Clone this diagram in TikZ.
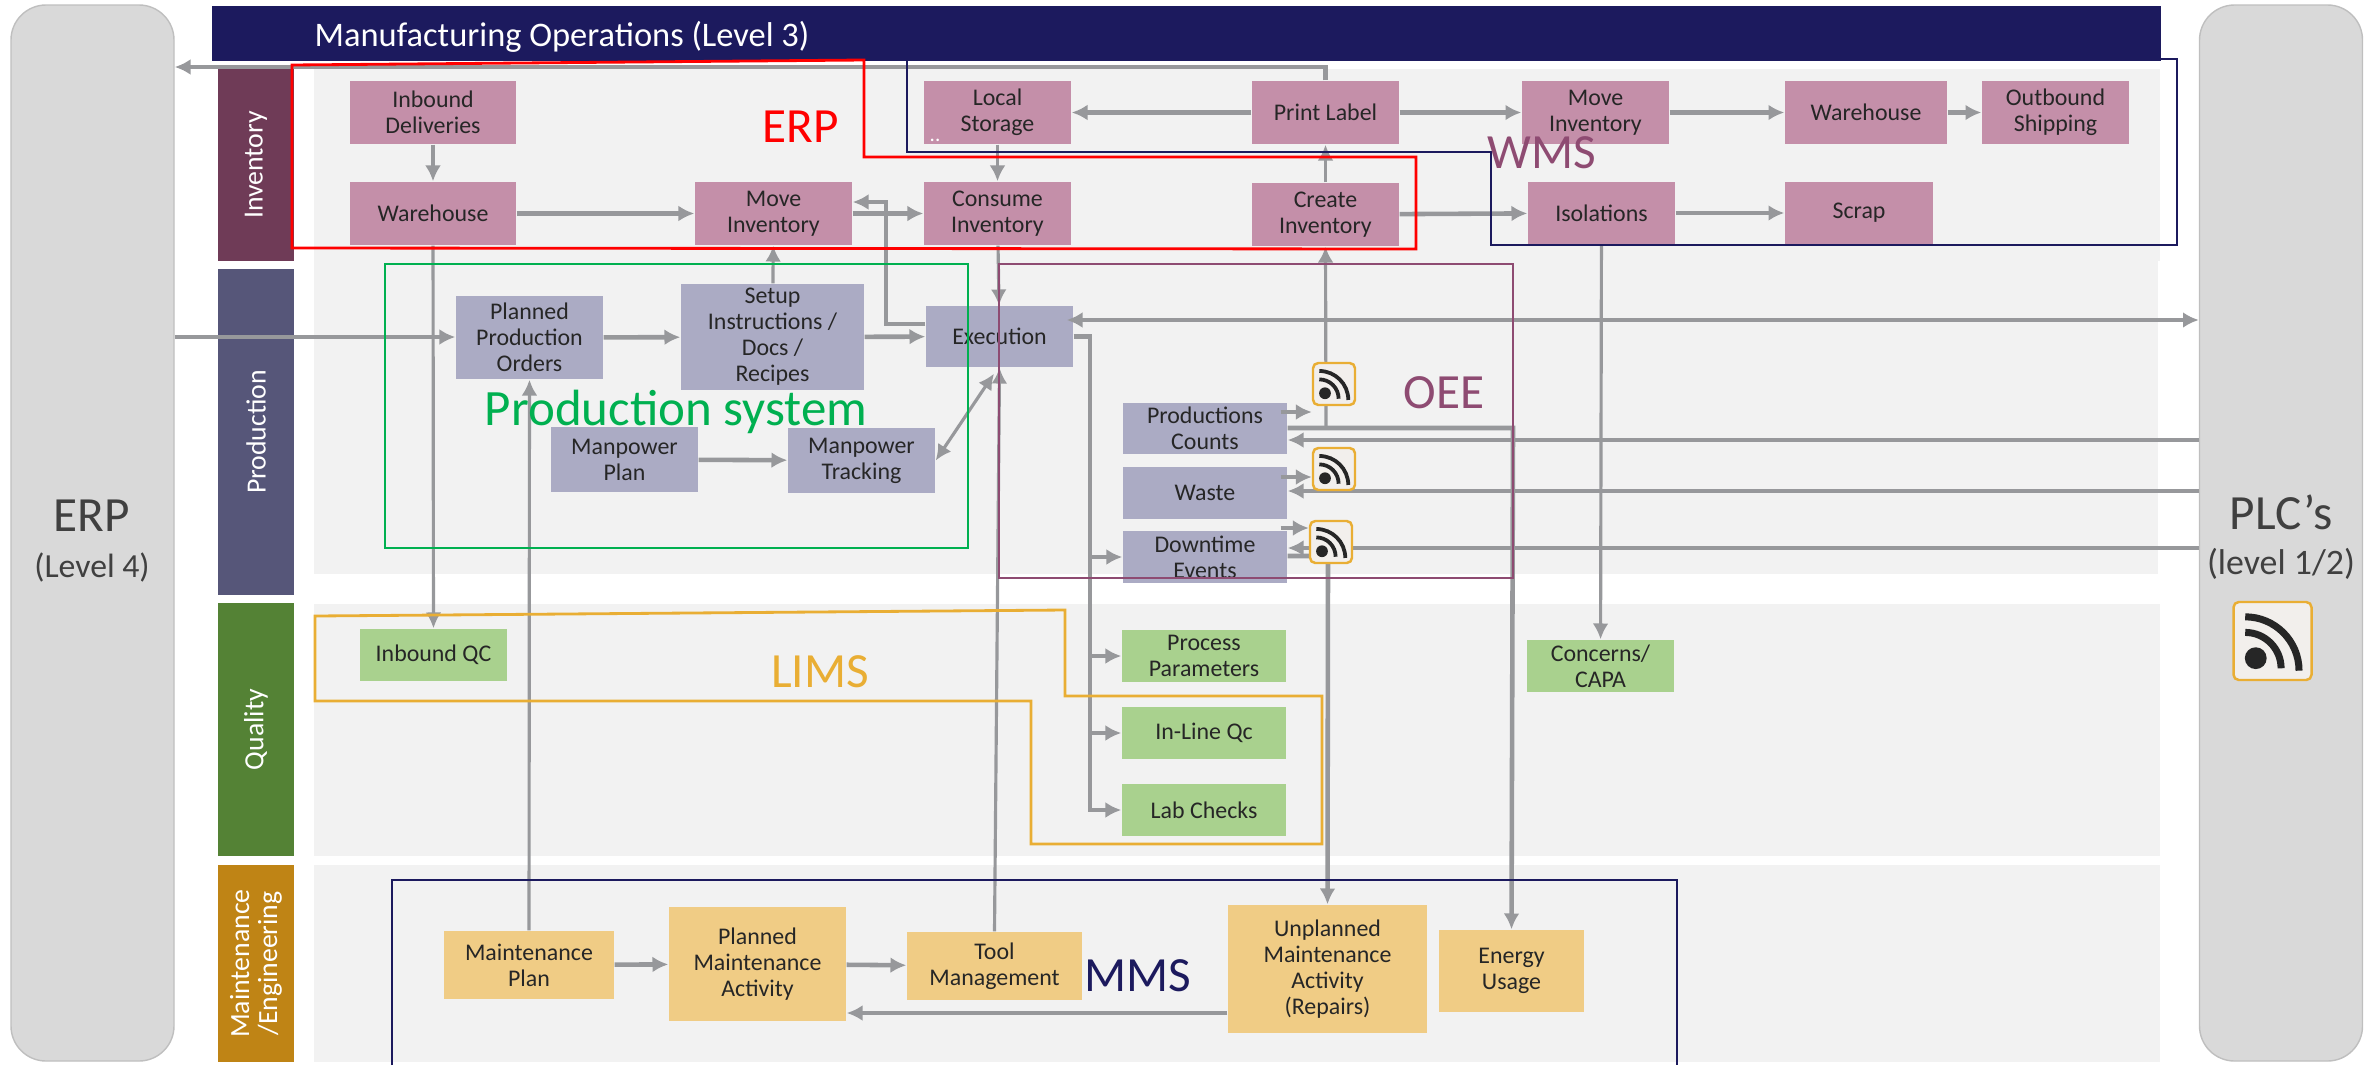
\documentclass[tikz,border=0pt]{standalone}
\usepackage{fontspec}
\usepackage{xcolor}
\usepackage{tikz}
\setmainfont{Carlito}
\usetikzlibrary{arrows.meta, positioning, calc}
\definecolor{invfill}{HTML}{C48FA9}
\definecolor{prodfill}{HTML}{ABABC4}
\definecolor{qualfill}{HTML}{A9D18E}
\definecolor{maintfill}{HTML}{F0CC85}
\definecolor{invband}{HTML}{6F3B57}
\definecolor{prodband}{HTML}{565679}
\definecolor{qualband}{HTML}{548235}
\definecolor{maintband}{HTML}{BF8415}
\definecolor{navyline}{HTML}{1C1A5E}
\definecolor{flowgray}{HTML}{97989B}
\definecolor{limsorange}{HTML}{E9AE34}
\definecolor{oeepurple}{HTML}{8E4B72}
\definecolor{sysgreen}{HTML}{00B050}
\definecolor{textdark}{HTML}{262626}
\definecolor{iconfill}{HTML}{F2EFEC}

\begin{document}
\begin{tikzpicture}[
    boxbase/.style={rectangle, inner sep=0pt, align=center, text=textdark, font=\fontsize{6.8}{7.4}\selectfont, minimum width=1.47cm},
    invbox/.style={boxbase, fill=invfill, minimum height=0.63cm},
    prodbox/.style={boxbase, fill=prodfill},
    qualbox/.style={boxbase, fill=qualfill, minimum height=0.52cm},
    maintbox/.style={boxbase, fill=maintfill},
    panel/.style={rectangle, inner sep=0pt, fill=black!5, minimum width=18.46cm},
    band/.style={rectangle, inner sep=0pt, rotate=90, align=center, text=white, minimum height=0.76cm, font=\fontsize{7.9}{8}\selectfont},
    sidepanel/.style={rectangle, rounded corners=0.35cm, draw=black!25, fill=black!15, minimum width=1.63cm, minimum height=10.56cm},
    sidetext/.style={align=center, text=black!75, font=\fontsize{14}{13}\selectfont},
    systext/.style={inner sep=0pt, font=\fontsize{14}{17}\selectfont},
    flow/.style={draw=flowgray, line width=1.3pt, -{Latex[length=4.5pt,width=4.5pt]}},
    thinflow/.style={draw=flowgray, line width=0.9pt, -{Latex[length=4.5pt,width=4.5pt]}},
    outline/.style={line width=0.8pt},
    rssbox/.style={rectangle, rounded corners=1.5pt, inner sep=0pt, minimum size=#1cm, draw=limsorange, line width=0.7pt, fill=iconfill,
        path picture={
            \begin{scope}[x=#1cm, y=#1cm]
                \fill[black!85] (-0.215,-0.22) circle (0.14);
                \draw[black!85, line width=#1*0.09cm] (-0.35,0.11) arc[start angle=90, end angle=0, radius=0.46];
                \draw[black!85, line width=#1*0.09cm] (-0.35,0.31) arc[start angle=90, end angle=0, radius=0.69];
            \end{scope}
        }},
]
\useasboundingbox (0,0) rectangle (23.7,-10.65);

% Side panels
\node[sidepanel] (erp) at (0.925,-5.33) {};
\node[sidepanel] (plc) at (22.81,-5.33) {};
\node[sidetext] (erptext) at (0.92,-5.41) {ERP\\{\fontsize{9.6}{11}\selectfont (Level 4)}};
\node[sidetext] (plctext) at (22.81,-5.37) {PLC’s\\{\fontsize{10.2}{12}\selectfont (level 1/2)}};

% Title bar
\node[rectangle, inner sep=0pt, fill=navyline, minimum width=19.49cm, minimum height=0.55cm] (titlebar) at (11.865,-0.335) {};
\node[anchor=west, inner sep=0pt, text=white, font=\fontsize{9.8}{11}\selectfont] (titletext) at (3.14,-0.365) {Manufacturing Operations (Level 3)};

% Panels
\node[panel, minimum height=1.92cm] (paninv) at (12.37,-1.65) {};
\node[panel, minimum width=18.44cm, minimum height=3.13cm] (panprod) at (12.36,-4.175) {};
\node[panel, minimum height=2.52cm] (panqual) at (12.37,-7.30) {};
\node[panel, minimum height=1.97cm] (panmaint) at (12.37,-9.635) {};

% Bands
\node[band, fill=invband, minimum width=1.92cm] (bandinv) at (2.56,-1.65) {Inventory};
\node[band, fill=prodband, minimum width=3.26cm] (bandprod) at (2.56,-4.32) {Production};
\node[band, fill=qualband, minimum width=2.53cm] (bandqual) at (2.56,-7.295) {Quality};
\node[band, fill=maintband, minimum width=1.97cm] (bandmaint) at (2.56,-9.635) {Maintenance\\/Engineering};

% Inventory
\node[invbox, minimum width=1.66cm] (inbound) at (4.33,-1.125) {Inbound\\Deliveries};
\node[invbox, minimum width=1.66cm] (warehousea) at (4.33,-2.135) {Warehouse};
\node[invbox, minimum width=1.57cm] (moveinva) at (7.735,-2.135) {Move\\Inventory};
\node[invbox] (localstorage) at (9.975,-1.125) {Local\\Storage};
\node[invbox] (printlabel) at (13.255,-1.125) {Print Label};
\node[invbox] (moveinvb) at (15.955,-1.125) {Move\\Inventory};
\node[invbox, minimum width=1.62cm] (warehouseb) at (18.66,-1.125) {Warehouse};
\node[invbox] (outbound) at (20.555,-1.125) {Outbound\\Shipping};
\node[invbox] (consume) at (9.975,-2.135) {Consume\\Inventory};
\node[invbox] (create) at (13.255,-2.145) {Create\\Inventory};
\node[invbox, minimum height=0.62cm] (isolations) at (16.015,-2.13) {Isolations};
\node[invbox, minimum width=1.48cm, minimum height=0.62cm] (scrap) at (18.59,-2.13) {Scrap};

% Production
\node[prodbox, minimum height=0.83cm] (orders) at (5.295,-3.375) {Planned\\Production\\Orders};
\node[prodbox, minimum width=1.83cm, minimum height=1.06cm] (setup) at (7.725,-3.37) {Setup\\Instructions /\\Docs /\\Recipes};
\node[prodbox, minimum height=0.61cm] (execution) at (9.995,-3.365) {Execution};
\node[prodbox, minimum height=0.65cm] (mpplan) at (6.245,-4.595) {Manpower\\Plan};
\node[prodbox, minimum height=0.65cm] (mptrack) at (8.615,-4.605) {Manpower\\Tracking};
\node[prodbox, minimum width=1.64cm, minimum height=0.51cm] (counts) at (12.05,-4.285) {Productions\\Counts};
\node[prodbox, minimum width=1.64cm, minimum height=0.52cm] (waste) at (12.05,-4.93) {Waste};
\node[prodbox, minimum width=1.64cm, minimum height=0.52cm] (downtime) at (12.05,-5.57) {Downtime\\Events};

% Quality
\node[qualbox] (inboundqc) at (4.335,-6.55) {Inbound QC};
\node[qualbox, minimum width=1.64cm] (params) at (12.04,-6.56) {Process\\Parameters};
\node[qualbox, minimum width=1.64cm] (inlineqc) at (12.04,-7.33) {In-Line Qc};
\node[qualbox, minimum width=1.64cm] (labchecks) at (12.04,-8.10) {Lab Checks};
\node[qualbox] (concerns) at (16.005,-6.66) {Concerns/\\CAPA};

% Maintenance
\node[maintbox, minimum width=1.70cm, minimum height=0.68cm] (mtplan) at (5.29,-9.65) {Maintenance\\Plan};
\node[maintbox, minimum width=1.77cm, minimum height=1.14cm] (mtactivity) at (7.575,-9.64) {Planned\\Maintenance\\Activity};
\node[maintbox, minimum width=1.75cm, minimum height=0.68cm] (tool) at (9.945,-9.66) {Tool\\Management};
\node[maintbox, minimum width=1.99cm, minimum height=1.28cm] (unplanned) at (13.275,-9.69) {Unplanned\\Maintenance\\Activity\\(Repairs)};
\node[maintbox, minimum width=1.45cm, minimum height=0.82cm] (energy) at (15.115,-9.71) {Energy\\Usage};

% Inventory flows
\draw[thinflow] (inbound) -- (warehousea);
\draw[flow] (warehousea) -- (moveinva);
\draw[flow] (moveinva) -- (consume);
\draw[thinflow] (localstorage) -- (consume);
\draw[flow] (printlabel) -- (localstorage);
\draw[flow] (printlabel) -- (moveinvb);
\draw[flow] (moveinvb) -- (warehouseb);
\draw[flow] (warehouseb) -- (outbound);
\draw[flow] (create) -- (isolations);
\draw[flow] (isolations) -- (scrap);
\draw[thinflow] (create) -- (printlabel);
\draw[flow] (printlabel.north) -- (printlabel.north |- 0,-0.67) -- (erp.east |- 0,-0.67);
\draw[thinflow] (warehousea) -- (inboundqc);
\draw[thinflow] (isolations) -- (concerns);

% Production flows
\draw[flow] (erp.east |- 0,-3.37) -- (orders.west |- 0,-3.37);
\draw[flow] (orders) -- (setup);
\draw[flow] (setup) -- (execution);
\draw[thinflow] (setup) -- (moveinva);
\draw[flow] (execution.west |- 0,-3.24) -- (8.86,-3.24) -- (8.86,-2.02) -- (moveinva.east |- 0,-2.02);
\draw[flow] (mpplan) -- (mptrack);
\draw[thinflow, {Latex[length=4.5pt,width=4.5pt]}-{Latex[length=4.5pt,width=4.5pt]}] (mptrack.east) -- ($(execution.south)+(-0.055,-0.06)$);
\draw[thinflow] (consume) -- (execution);
\draw[flow, {Latex[length=4.5pt,width=4.5pt]}-{Latex[length=4.5pt,width=4.5pt]}, shorten <=-0.07cm] (execution.east |- 0,-3.2) -- (plc.west |- 0,-3.2);
\draw[flow] (execution.east) -- (10.9,-3.365) -- (10.9,-5.57) -- (downtime.west);
\draw[thinflow] (10.9,-5.57) -- (10.9,-6.56) -- (params.west);
\draw[thinflow] (10.9,-6.56) -- (10.9,-7.33) -- (inlineqc.west);
\draw[thinflow] (10.9,-7.33) -- (10.9,-8.10) -- (labchecks.west);

% Signals from the machines
\draw[flow] (plc.west |- 0,-4.40) -- (counts.east |- 0,-4.40);
\draw[flow] (plc.west |- 0,-4.91) -- (waste.east |- 0,-4.91);
\draw[flow] (plc.west |- 0,-5.48) -- (downtime.east |- 0,-5.48);
\draw[flow] (counts.east |- 0,-4.28) -- (15.13,-4.28) -- (energy.north);
\draw[thinflow] (13.26,-4.28) -- (create.south);
\draw[flow] (downtime.east |- 0,-5.56) -- (13.28,-5.56) -- (unplanned.north);

% Maintenance flows
\draw[thinflow] (mtplan) -- (orders);
\draw[flow] (mtplan) -- (mtactivity);
\draw[flow] (mtactivity) -- (tool);
\draw[thinflow] (tool.north) -- (execution.south);
\draw[flow] (unplanned.west |- 0,-10.13) -- (mtactivity.east |- 0,-10.13);

% RSS icons
\node[rssbox=0.42] (rssa) at (13.34,-3.84) {};
\node[rssbox=0.42] (rssb) at (13.34,-4.69) {};
\node[rssbox=0.42] (rssc) at (13.31,-5.42) {};
\node[rssbox=0.78] (rssd) at (22.725,-6.41) {};
\draw[flow, shorten <=-0.07cm] (counts.east |- 0,-4.12) -- (rssa.west |- 0,-4.12);
\draw[flow, shorten <=-0.07cm] (waste.east |- 0,-4.77) -- (rssb.west |- 0,-4.77);
\draw[flow, shorten <=-0.07cm] (downtime.east |- 0,-5.28) -- (rssc.west |- 0,-5.28);

% System outlines
\draw[outline, red] (2.92,-0.65) -- (8.64,-0.60) -- (8.64,-1.57) -- (14.16,-1.57) -- (14.16,-2.49) -- (2.92,-2.48) -- cycle;
\draw[outline, navyline] (9.07,-0.59) -- (21.77,-0.59) -- (21.77,-2.45) -- (14.91,-2.45) -- (14.91,-1.52) -- (9.07,-1.52) -- cycle;
\draw[outline, sysgreen] (3.85,-2.64) rectangle (9.68,-5.48);
\draw[outline, oeepurple] (9.99,-2.64) rectangle (15.13,-5.78);
\draw[outline, limsorange] (3.15,-6.16) -- (10.65,-6.10) -- (10.65,-6.96) -- (13.22,-6.96) -- (13.22,-8.44) -- (10.31,-8.44) -- (10.31,-7.01) -- (3.15,-7.01) -- cycle;
\draw[outline, navyline] (3.92,-10.65) -- (3.92,-8.80) -- (16.77,-8.80) -- (16.77,-10.65);

% System labels
\node[systext, text=red] (erplabel) at (8.01,-1.27) {ERP};
\node[inner sep=0pt, text=white, font=\fontsize{6}{7}\selectfont] (dots) at (9.35,-1.40) {..};
\node[systext, text=oeepurple] (wmslabel) at (15.42,-1.53) {WMS};
\node[systext, text=oeepurple] (oeelabel) at (14.44,-3.93) {OEE};
\node[systext, text=sysgreen, font=\fontsize{14.5}{17}\selectfont] (syslabel) at (6.76,-4.12) {Production system};
\node[systext, text=limsorange] (limslabel) at (8.20,-6.72) {LIMS};
\node[systext, text=navyline] (mmslabel) at (11.38,-9.76) {MMS};
\end{tikzpicture}
\end{document}
